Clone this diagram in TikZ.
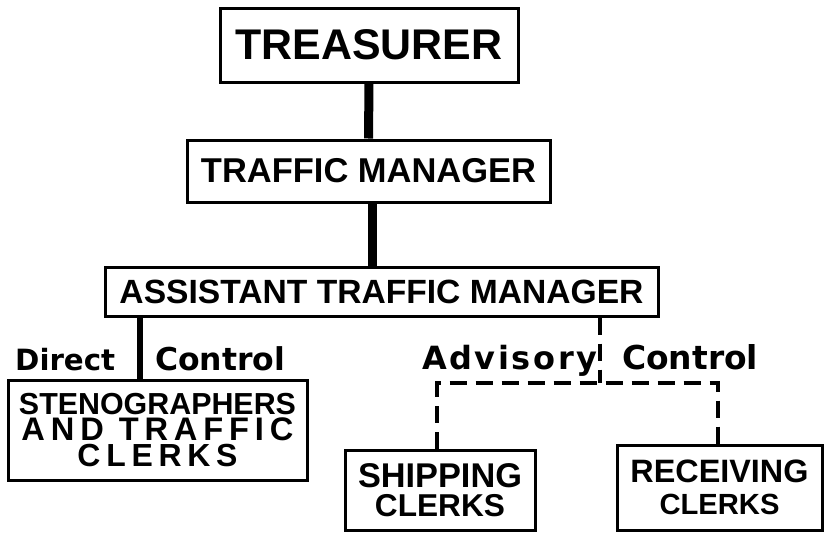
\documentclass[tikz,border=0pt]{standalone}
\usepackage{fontspec}
\usepackage{graphicx}
\setmainfont{Liberation Sans}
\newfontfamily\capsfont{Liberation Sans}
\newfontfamily\capsspaced[LetterSpace=18]{Liberation Sans}
\newfontfamily\labfont{DejaVu Sans}
\newfontfamily\labspaced[LetterSpace=8]{DejaVu Sans}
\newcommand\fw[2]{\resizebox{#1}{!}{#2}}
\tikzset{
  orgbox/.style={draw, line width=3pt, inner sep=0pt, align=center,
    font=\capsfont\bfseries\fontsize{30}{25}\selectfont},
  thickconn/.style={line width=9pt},
  midconn/.style={line width=6pt},
  adv/.style={line width=4pt, dash pattern=on 17pt off 9pt},
  lab/.style={inner sep=0pt, anchor=base west, font=\labfont\bfseries\fontsize{30}{30}\selectfont}
}
\begin{document}
\begin{tikzpicture}[x=1pt,y=-1pt]
\useasboundingbox (0,0) rectangle (825,533);
\node[orgbox, minimum width=298pt, minimum height=74pt] (tre) at (369,45) {\fw{267pt}{TREASURER}};
\node[orgbox, minimum width=363pt, minimum height=62pt] (tm) at (368.5,171) {\fw{335pt}{TRAFFIC MANAGER}};
\node[orgbox, minimum width=553pt, minimum height=49pt] (atm) at (381.5,291.5) {\fw{524pt}{ASSISTANT TRAFFIC MANAGER}};
\node[orgbox, minimum width=299pt, minimum height=100pt, font=\capsfont\bfseries\fontsize{30}{26}\selectfont] (steno) at (157.5,430)
  {\fw{277pt}{STENOGRAPHERS}\\\fw{272pt}{\capsspaced\bfseries AND TRAFFIC}\\\fw{160pt}{\capsspaced\bfseries CLERKS}};
\node[orgbox, minimum width=190pt, minimum height=80pt, font=\capsfont\bfseries\fontsize{30}{29}\selectfont] (ship) at (440,490)
  {\fw{164pt}{SHIPPING}\\\fw{130pt}{CLERKS}};
\node[orgbox, minimum width=205pt, minimum height=85pt, font=\capsfont\bfseries\fontsize{30}{32}\selectfont] (recv) at (719.5,487.5)
  {\fw{178pt}{RECEIVING}\\\fw{120pt}{CLERKS}};
% solid connectors
\draw[thickconn] (tre.south) -- (tm.north);
\coordinate (tmx) at (372,0);
\draw[thickconn] (tm.south -| tmx) -- (atm.north -| tmx);
\coordinate (stx) at (140,0);
\draw[midconn] (atm.south -| stx) -- (steno.north -| stx);
% advisory (dashed) connectors
\coordinate (jm) at (600,383);
\coordinate (jl) at (437,383);
\coordinate (jr) at (718,383);
\draw[adv] (atm.south -| jm) -- (jm);
\draw[adv] (ship.north -| jl) -- (jl) -- (jr) -- (recv.north -| jr);
% labels
\node[lab] (ldir) at (15,370) {\fw{100pt}{Direct}};
\node[lab] (lcon1) at (155,370) {\fw{130pt}{Control}};
\node[lab] (ladv) at (422,369) {\fw{175pt}{\labspaced\bfseries Advisory}};
\node[lab] (lcon2) at (622,369) {\fw{136pt}{Control}};
\end{tikzpicture}
\end{document}
